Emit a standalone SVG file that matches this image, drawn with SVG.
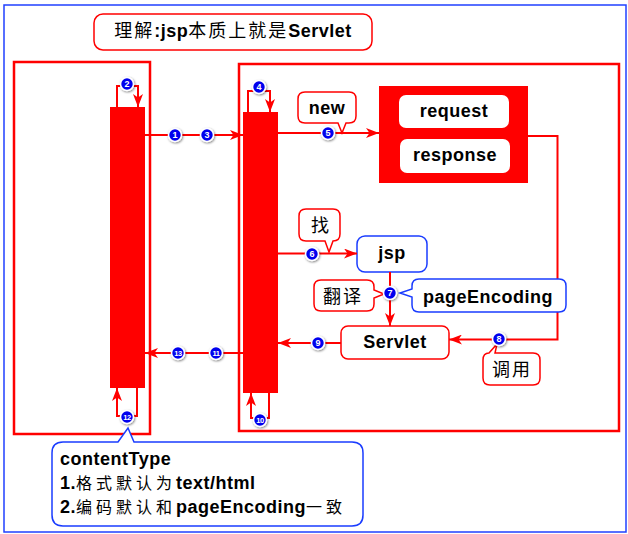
<svg xmlns="http://www.w3.org/2000/svg" width="628" height="534" viewBox="0 0 628 534">
<style>
text{font-family:"Liberation Sans","Noto Sans CJK SC",sans-serif;font-weight:bold;font-size:18px;letter-spacing:0.5px;fill:#000}
.cjk{font-family:"Noto Sans CJK SC",sans-serif;font-weight:normal;letter-spacing:2px}
.cjs{font-family:"Noto Sans CJK SC",sans-serif;font-weight:normal;font-size:16px;letter-spacing:4px}
.frame{fill:none;stroke:#ff0000;stroke-width:2.5}
.bar{fill:#ff0000}
.rbox{fill:#fff;stroke:#ff0000;stroke-width:1.5}
.bbox{fill:#fff;stroke:#1a3cff;stroke-width:1.5}
.wl{fill:#fff;stroke:none}
.con{fill:none;stroke:#ff0000;stroke-width:2}
.arr{marker-end:url(#ah)}
.badge circle{fill:#0000ee;stroke:#fff;stroke-width:1.6;filter:url(#sh)}
.badge text{fill:#fff;font-size:9px;letter-spacing:0;text-anchor:middle}
.badge text.s{font-size:7.5px;letter-spacing:-0.4px}
.c{text-anchor:middle}
</style>
<defs>
<marker id="ah" markerUnits="userSpaceOnUse" markerWidth="14" markerHeight="10" refX="13" refY="5" orient="auto">
<path d="M0,0 L13,5 L0,10 L3.5,5 Z" fill="#ff0000"/>
</marker>
<filter id="sh" x="-50%" y="-50%" width="200%" height="200%">
<feDropShadow dx="0.8" dy="1" stdDeviation="0.8" flood-color="#000" flood-opacity="0.5"/>
</filter>
</defs>
<rect x="0" y="0" width="628" height="534" fill="#fff"/>
<rect id="border" x="4" y="5" width="622" height="527" fill="none" stroke="#2040ff" stroke-width="1.5"/>

<g id="title">
<rect class="rbox" x="94" y="14" width="278" height="36" rx="9"/>
<text x="233" y="37" class="c"><tspan class="cjk">理解</tspan>:jsp<tspan class="cjk">本质上就是</tspan>Servlet</text>
</g>

<g id="browser-frame">
<rect class="frame" x="14" y="62" width="136" height="372"/>
<rect class="bar" x="110" y="107" width="35" height="281"/>
</g>

<g id="server-frame">
<rect class="frame" x="239" y="64" width="380" height="367"/>
<rect class="bar" x="243" y="112" width="35" height="281"/>
</g>

<g id="req-resp">
<rect x="379" y="86" width="149" height="97" fill="#ff0000"/>
<rect class="wl" x="399" y="95" width="110" height="33" rx="7"/>
<text x="454" y="117" class="c">request</text>
<rect class="wl" x="400" y="139" width="110" height="34" rx="7"/>
<text x="455" y="161" class="c">response</text>
</g>

<g id="jsp">
<rect class="bbox" x="357" y="236" width="70" height="36" rx="8"/>
<text x="392" y="259" class="c">jsp</text>
</g>

<g id="servlet">
<rect class="rbox" x="341" y="326" width="108" height="33" rx="7"/>
<text x="395" y="348" class="c">Servlet</text>
</g>

<g id="connectors">
<path class="con arr" d="M145,135 H243"/>
<path class="con arr" d="M117,107 V86 H138 V107"/>
<path class="con arr" d="M248,112 V91 H270 V112"/>
<path class="con arr" d="M278,133 H379"/>
<path class="con arr" d="M278,253.5 H357"/>
<path class="con arr" d="M390,272 V326"/>
<path class="con arr" d="M528,136 H557.5 V339.5 H449"/>
<path class="con arr" d="M341,343 H278"/>
<path class="con arr" d="M269,393 V418 H251 V393"/>
<path class="con arr" d="M243,353 H145"/>
<path class="con arr" d="M137,388 V416 H117 V388"/>
</g>

<g id="callout-new">
<path class="rbox" d="M305,92 H349 Q356,92 356,99 V116 Q356,123 349,123 H346 L342,133 L338,123 H305 Q298,123 298,116 V99 Q298,92 305,92 Z"/>
<text x="327" y="114" class="c">new</text>
</g>

<g id="callout-find">
<path class="rbox" d="M306,209 H333 Q340,209 340,216 V234 Q340,241 333,241 L329,252 L325,241 H306 Q299,241 299,234 V216 Q299,209 306,209 Z"/>
<text x="320" y="232" class="c"><tspan class="cjk" style="letter-spacing:0">找</tspan></text>
</g>

<g id="callout-translate">
<path class="rbox" d="M321,280 H367 Q374,280 374,287 V290 L384,294 L374,298 V304 Q374,311 367,311 H321 Q314,311 314,304 V287 Q314,280 321,280 Z"/>
<text x="323" y="303"><tspan class="cjk">翻译</tspan></text>
</g>

<g id="callout-pageEncoding">
<path class="bbox" d="M419,279 H559 Q566,279 566,286 V305 Q566,312 559,312 H419 Q412,312 412,305 V297 L400,293 L412,289 V286 Q412,279 419,279 Z"/>
<text x="488" y="303" class="c">pageEncoding</text>
</g>

<g id="callout-call">
<path class="rbox" d="M489,353 L497,344 L495,353 H533 Q540,353 540,360 V378 Q540,385 533,385 H490 Q483,385 483,378 V360 Q483,353 489,353 Z"/>
<text x="492" y="376"><tspan class="cjk">调用</tspan></text>
</g>

<g id="callout-contentType">
<path class="bbox" d="M63,442 H118 L128,428 L134,442 H352 Q363,442 363,453 V515 Q363,526 352,526 H63 Q52,526 52,515 V453 Q52,442 63,442 Z"/>
<text x="60" y="465">contentType<tspan x="60" y="489">1.</tspan><tspan class="cjs">格式默认为</tspan><tspan>text/html</tspan><tspan x="60" y="513">2.</tspan><tspan class="cjs">编码默认和</tspan><tspan>pageEncoding</tspan><tspan class="cjs">一致</tspan></text>
</g>

<g id="badges">
<g class="badge"><circle cx="175" cy="135" r="6.5"/><text x="175" y="138.3">1</text></g>
<g class="badge"><circle cx="127" cy="84" r="6.5"/><text x="127" y="87.3">2</text></g>
<g class="badge"><circle cx="207" cy="135" r="6.5"/><text x="207" y="138.3">3</text></g>
<g class="badge"><circle cx="259" cy="87" r="6.5"/><text x="259" y="90.3">4</text></g>
<g class="badge"><circle cx="328" cy="133" r="6.5"/><text x="328" y="136.3">5</text></g>
<g class="badge"><circle cx="312" cy="254" r="6.5"/><text x="312" y="257.3">6</text></g>
<g class="badge"><circle cx="390" cy="293" r="6.5"/><text x="390" y="296.3">7</text></g>
<g class="badge"><circle cx="499" cy="339" r="6.5"/><text x="499" y="342.3">8</text></g>
<g class="badge"><circle cx="318" cy="343" r="6.5"/><text x="318" y="346.3">9</text></g>
<g class="badge"><circle cx="260" cy="420" r="6.5"/><text class="s" x="260" y="422.7">10</text></g>
<g class="badge"><circle cx="216" cy="353" r="6.5"/><text class="s" x="216" y="355.7">11</text></g>
<g class="badge"><circle cx="127" cy="417" r="6.5"/><text class="s" x="127" y="419.7">12</text></g>
<g class="badge"><circle cx="178" cy="353" r="6.5"/><text class="s" x="178" y="355.7">13</text></g>
</g>
</svg>
